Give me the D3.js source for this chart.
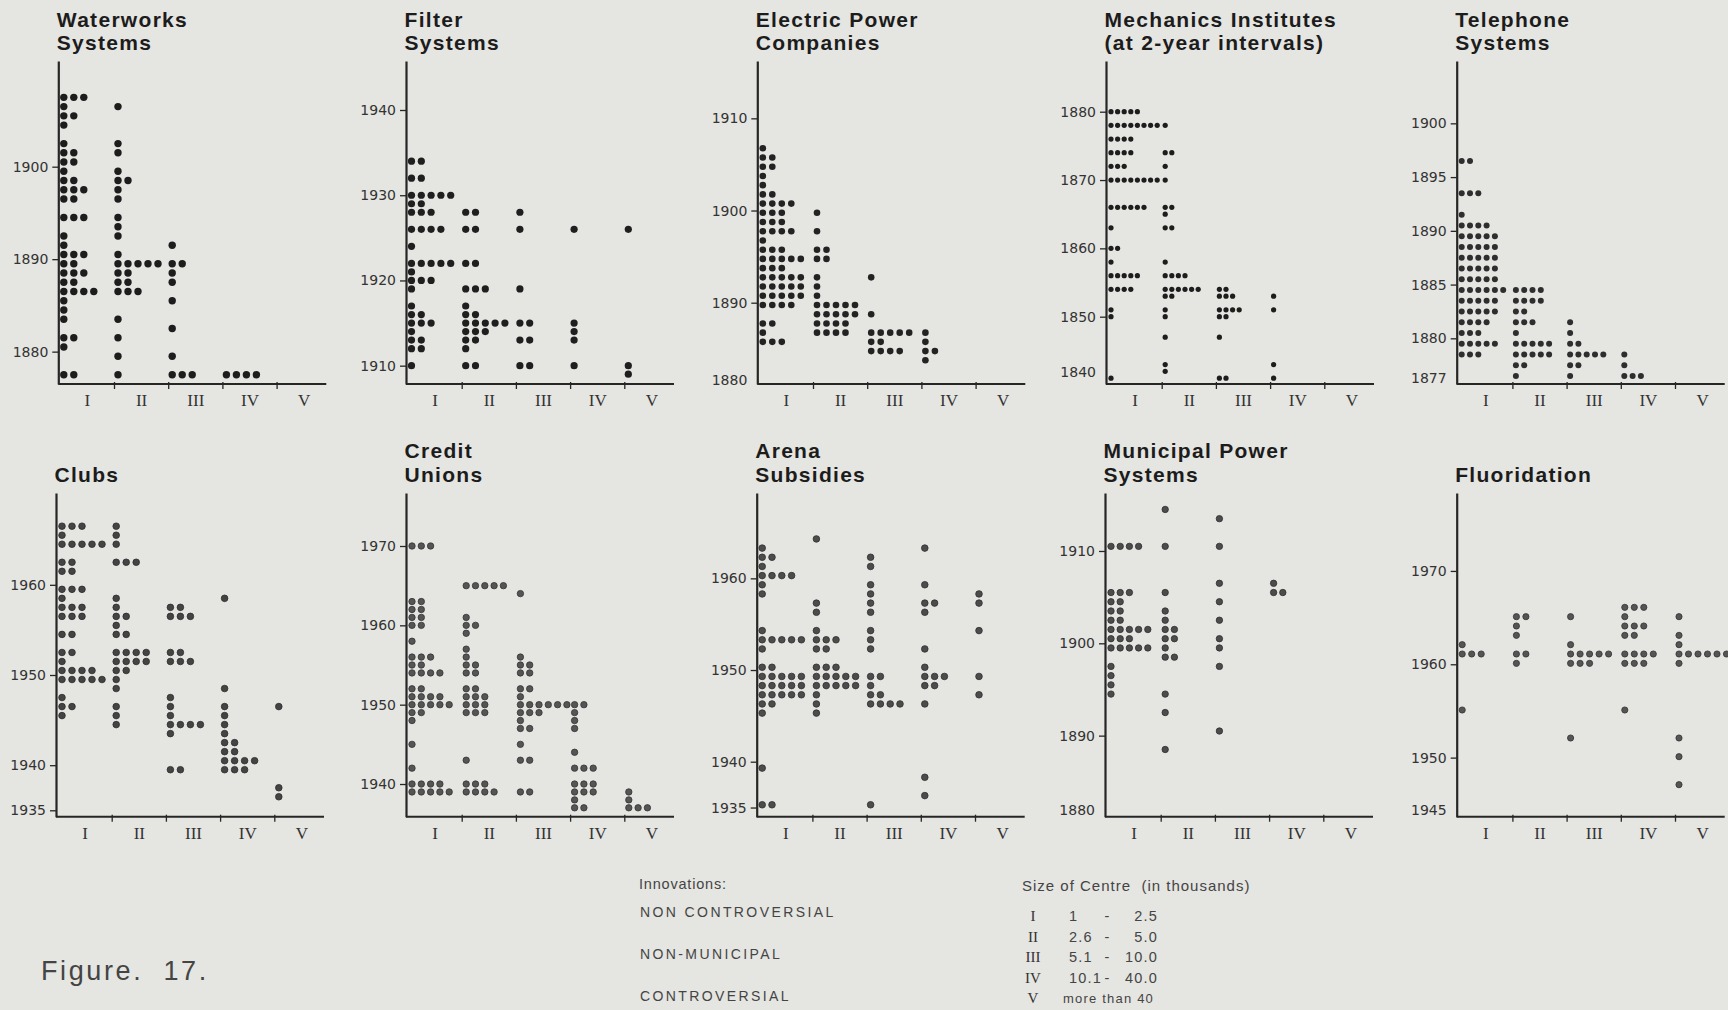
<!DOCTYPE html>
<html>
<head>
<meta charset="utf-8">
<script src="https://cdn.jsdelivr.net/npm/d3@7"></script>
<style>
  html, body { margin: 0; padding: 0; background: #e5e5e1; }
  svg { display: block; }
  .title { font-family: "Liberation Sans", Arial, sans-serif; font-weight: bold; font-size: 21px; letter-spacing: 1.3px; fill: #1c1c1c; }
  .yaxis text, .origin { font-family: "DejaVu Sans", sans-serif; font-size: 14px; fill: #333; }
  .xaxis text { font-family: "Liberation Serif", "Times New Roman", serif; font-size: 17px; fill: #333; }
  .yaxis path, .yaxis line, .xline, .bound { stroke: #262626; }
  .note { font-family: "Liberation Sans", Arial, sans-serif; fill: #444; }
</style>
</head>
<body>
<svg id="fig" width="1728" height="1010"></svg>
<script>
// ---------------------------------------------------------------
// Size classes of centres (x categories)
const sizeClasses = ["I", "II", "III", "IV", "V"];

// Each record: [size class, year of adoption, number of centres]
const waterworks = [
  ["I",1907,3],["I",1906,1],["I",1905,2],["I",1904,1],["I",1902,1],["I",1901,2],["I",1900,2],
  ["I",1899,1],["I",1898,2],["I",1897,3],["I",1896,2],["I",1894,3],["I",1892,1],["I",1891,1],
  ["I",1890,3],["I",1889,2],["I",1888,3],["I",1887,2],["I",1886,4],["I",1885,1],["I",1884,1],
  ["I",1883,1],["I",1881,2],["I",1880,1],["I",1877,2],
  ["II",1906,1],["II",1902,1],["II",1901,1],["II",1899,1],["II",1898,2],["II",1897,1],["II",1896,1],
  ["II",1894,1],["II",1893,1],["II",1892,1],["II",1890,1],["II",1889,5],["II",1888,2],["II",1887,2],
  ["II",1886,3],["II",1883,1],["II",1881,1],["II",1879,1],["II",1877,1],
  ["III",1891,1],["III",1889,2],["III",1888,1],["III",1887,1],["III",1885,1],["III",1882,1],
  ["III",1879,1],["III",1877,3],
  ["IV",1877,4]
];

const filterSystems = [
  ["I",1934,2],["I",1932,2],["I",1930,5],["I",1929,2],["I",1928,3],["I",1926,4],["I",1924,1],
  ["I",1922,5],["I",1921,1],["I",1920,3],["I",1919,1],["I",1917,1],["I",1916,2],["I",1915,3],
  ["I",1914,1],["I",1913,2],["I",1912,2],["I",1910,1],
  ["II",1928,2],["II",1926,2],["II",1922,2],["II",1919,3],["II",1917,1],["II",1916,2],["II",1915,5],
  ["II",1914,3],["II",1913,2],["II",1912,1],["II",1910,2],
  ["III",1928,1],["III",1926,1],["III",1919,1],["III",1915,2],["III",1913,2],["III",1910,2],
  ["IV",1926,1],["IV",1915,1],["IV",1914,1],["IV",1913,1],["IV",1910,1],
  ["V",1926,1],["V",1910,1],["V",1909,1]
];

const electricPower = [
  ["I",1906,1],["I",1905,2],["I",1904,2],["I",1903,1],["I",1902,1],["I",1901,2],["I",1900,4],
  ["I",1899,3],["I",1898,3],["I",1897,4],["I",1896,1],["I",1895,3],["I",1894,5],["I",1893,3],
  ["I",1892,5],["I",1891,5],["I",1890,5],["I",1889,4],["I",1887,2],["I",1886,1],["I",1885,3],
  ["II",1899,1],["II",1897,1],["II",1895,2],["II",1894,2],["II",1892,1],["II",1891,1],["II",1890,1],
  ["II",1889,5],["II",1888,5],["II",1887,4],["II",1886,4],
  ["III",1892,1],["III",1888,1],["III",1886,5],["III",1885,2],["III",1884,4],
  ["IV",1886,1],["IV",1885,1],["IV",1884,2],["IV",1883,1]
];

const mechanicsInstitutes = [
  ["I",1880,5],["I",1878,8],["I",1876,4],["I",1874,4],["I",1872,3],["I",1870,8],["I",1866,6],
  ["I",1863,1],["I",1860,2],["I",1858,1],["I",1856,5],["I",1854,4],["I",1851,1],["I",1850,1],
  ["I",1841,1],
  ["II",1878,1],["II",1874,2],["II",1872,1],["II",1870,1],["II",1866,2],["II",1865,1],["II",1863,2],
  ["II",1858,1],["II",1856,4],["II",1854,6],["II",1853,2],["II",1851,1],["II",1850,1],["II",1847,1],
  ["II",1843,1],["II",1842,1],
  ["III",1854,2],["III",1853,3],["III",1851,4],["III",1850,2],["III",1847,1],["III",1841,2],
  ["IV",1853,1],["IV",1851,1],["IV",1843,1],["IV",1841,1]
];

const telephoneSystems = [
  ["I",1897,2],["I",1894,3],["I",1892,1],["I",1891,4],["I",1890,5],["I",1889,5],["I",1888,5],
  ["I",1887,5],["I",1886,5],["I",1885,6],["I",1884,5],["I",1883,5],["I",1882,4],["I",1881,3],
  ["I",1880,5],["I",1879,3],
  ["II",1885,4],["II",1884,4],["II",1883,2],["II",1882,3],["II",1881,1],["II",1880,5],["II",1879,5],
  ["II",1878,2],["II",1877,1],
  ["III",1882,1],["III",1881,1],["III",1880,2],["III",1879,5],["III",1878,2],["III",1877,1],
  ["IV",1879,1],["IV",1878,1],["IV",1877,3]
];

const clubs = [
  ["I",1966,3],["I",1965,1],["I",1964,5],["I",1962,2],["I",1961,2],["I",1959,3],["I",1958,1],
  ["I",1957,3],["I",1956,3],["I",1954,2],["I",1952,2],["I",1951,1],["I",1950,4],["I",1949,5],
  ["I",1947,1],["I",1946,2],["I",1945,1],
  ["II",1966,1],["II",1965,1],["II",1964,1],["II",1962,3],["II",1958,1],["II",1957,1],["II",1956,2],
  ["II",1955,1],["II",1954,2],["II",1952,4],["II",1951,4],["II",1950,2],["II",1949,1],["II",1948,1],
  ["II",1946,1],["II",1945,1],["II",1944,1],
  ["III",1957,2],["III",1956,3],["III",1952,2],["III",1951,3],["III",1947,1],["III",1946,1],
  ["III",1945,1],["III",1944,4],["III",1943,1],["III",1939,2],
  ["IV",1958,1],["IV",1948,1],["IV",1946,1],["IV",1945,1],["IV",1944,1],["IV",1943,1],["IV",1942,2],
  ["IV",1941,2],["IV",1940,4],["IV",1939,3],
  ["V",1946,1],["V",1937,1],["V",1936,1]
];

const creditUnions = [
  ["I",1970,3],["I",1963,2],["I",1962,2],["I",1961,2],["I",1960,2],["I",1958,1],["I",1956,3],
  ["I",1955,2],["I",1954,4],["I",1952,2],["I",1951,4],["I",1950,5],["I",1949,2],["I",1948,1],
  ["I",1945,1],["I",1942,1],["I",1940,4],["I",1939,5],
  ["II",1965,5],["II",1961,1],["II",1960,2],["II",1959,1],["II",1957,1],["II",1956,1],["II",1955,2],
  ["II",1954,2],["II",1952,2],["II",1951,3],["II",1950,3],["II",1949,3],["II",1943,1],["II",1940,3],
  ["II",1939,4],
  ["III",1964,1],["III",1956,1],["III",1955,2],["III",1954,2],["III",1952,2],["III",1951,1],
  ["III",1950,6],["III",1949,3],["III",1948,1],["III",1947,2],["III",1945,1],["III",1943,2],
  ["III",1939,2],
  ["IV",1950,2],["IV",1949,1],["IV",1948,1],["IV",1947,1],["IV",1944,1],["IV",1942,3],["IV",1940,3],
  ["IV",1939,3],["IV",1938,1],["IV",1937,2],
  ["V",1939,1],["V",1938,1],["V",1937,3]
];

const arenaSubsidies = [
  ["I",1963,1],["I",1962,2],["I",1961,1],["I",1960,4],["I",1959,1],["I",1958,1],["I",1954,1],
  ["I",1953,5],["I",1952,1],["I",1950,2],["I",1949,5],["I",1948,5],["I",1947,5],["I",1946,2],
  ["I",1945,1],["I",1939,1],["I",1935,2],
  ["II",1964,1],["II",1957,1],["II",1956,1],["II",1954,1],["II",1953,3],["II",1952,2],["II",1950,3],
  ["II",1949,5],["II",1948,5],["II",1947,1],["II",1946,1],["II",1945,1],
  ["III",1962,1],["III",1961,1],["III",1959,1],["III",1958,1],["III",1957,1],["III",1956,1],
  ["III",1954,1],["III",1953,1],["III",1952,1],["III",1949,2],["III",1948,1],["III",1947,2],
  ["III",1946,4],["III",1935,1],
  ["IV",1963,1],["IV",1959,1],["IV",1957,2],["IV",1956,1],["IV",1952,1],["IV",1950,1],["IV",1949,3],
  ["IV",1948,2],["IV",1946,1],["IV",1938,1],["IV",1936,1],
  ["V",1958,1],["V",1957,1],["V",1954,1],["V",1949,1],["V",1947,1]
];

const municipalPower = [
  ["I",1910,4],["I",1905,3],["I",1904,2],["I",1903,2],["I",1902,2],["I",1901,5],["I",1900,3],
  ["I",1899,5],["I",1897,1],["I",1896,1],["I",1895,1],["I",1894,1],
  ["II",1914,1],["II",1910,1],["II",1905,1],["II",1903,1],["II",1902,1],["II",1901,2],["II",1900,2],
  ["II",1899,1],["II",1898,2],["II",1894,1],["II",1892,1],["II",1888,1],
  ["III",1913,1],["III",1910,1],["III",1906,1],["III",1904,1],["III",1902,1],["III",1900,1],
  ["III",1899,1],["III",1897,1],["III",1890,1],
  ["IV",1906,1],["IV",1905,2]
];

const fluoridation = [
  ["I",1962,1],["I",1961,3],["I",1955,1],
  ["II",1965,2],["II",1964,1],["II",1963,1],["II",1961,2],["II",1960,1],
  ["III",1965,1],["III",1962,1],["III",1961,5],["III",1960,3],["III",1952,1],
  ["IV",1966,3],["IV",1965,1],["IV",1964,3],["IV",1963,2],["IV",1961,4],["IV",1960,3],["IV",1955,1],
  ["V",1965,1],["V",1963,1],["V",1962,1],["V",1961,6],["V",1960,1],["V",1952,1],["V",1950,1],["V",1947,1]
];

// Year tick labels for each panel, and the year written at the axis origin
const waterworksTicks = [1880, 1890, 1900];
const filterTicks = [1910, 1920, 1930, 1940];
const electricTicks = [1890, 1900, 1910];
const mechanicsTicks = [1850, 1860, 1870, 1880];
const telephoneTicks = [1880, 1885, 1890, 1895, 1900];
const clubsTicks = [1935, 1940, 1950, 1960];
const creditTicks = [1940, 1950, 1960, 1970];
const arenaTicks = [1935, 1940, 1950, 1960];
const municipalTicks = [1890, 1900, 1910];
const fluoridationTicks = [1950, 1960, 1970];
const originYears = [null, null, 1880, 1840, 1877, null, null, null, 1880, 1945];

const panelTitles = [
  ["Waterworks", "Systems"], ["Filter", "Systems"], ["Electric Power", "Companies"],
  ["Mechanics Institutes", "(at 2-year intervals)"], ["Telephone", "Systems"],
  ["Clubs"], ["Credit", "Unions"], ["Arena", "Subsidies"], ["Municipal Power", "Systems"], ["Fluoridation"]
];

// Legend texts
const innovationTypes = ["NON CONTROVERSIAL", "NON-MUNICIPAL", "CONTROVERSIAL"];
const sizeRanges = [["I", "1", "2.5"], ["II", "2.6", "5.0"], ["III", "5.1", "10.0"], ["IV", "10.1", "40.0"], ["V", "more than 40", null]];

// ---------------------------------------------------------------
// Layout of the small multiples
const rowGeom = [
  { top: 61, bottom: 384, titleBase: [26.8, 50] },
  { top: 493, bottom: 816.7, titleBase: [458.3, 481.7] }
];

const panels = [
  { rows: waterworks, ticks: waterworksTicks, row: 0, left: 58.3, domain: [1876.5, 1911.43], rowOffset: 0.5,
    dot: { r: 3.7, step: 10, first: 3.5, fill: "#1d1d1d" } },
  { rows: filterSystems, ticks: filterTicks, row: 0, left: 406, domain: [1907.85, 1945.75], rowOffset: 0,
    dot: { r: 3.6, step: 9.8, first: 3.5, fill: "#1f1f1f" } },
  { rows: electricPower, ticks: electricTicks, row: 0, left: 757.3, domain: [1881.18, 1916.22], rowOffset: 0.75,
    dot: { r: 3.3, step: 9.5, first: 3.5, fill: "#232323" }, originLift: 4 },
  { rows: mechanicsInstitutes, ticks: mechanicsTicks, row: 0, left: 1106, domain: [1840.15, 1887.42], rowOffset: 0,
    dot: { r: 2.6, step: 6.6, first: 3, fill: "#1d1d1d" }, originLift: 12 },
  { rows: telephoneSystems, ticks: telephoneTicks, row: 0, left: 1456.7, domain: [1875.75, 1905.8], rowOffset: -0.5,
    dot: { r: 3.0, step: 8.3, first: 3, fill: "#2e2e2e" }, originLift: 6 },
  { rows: clubs, ticks: clubsTicks, row: 1, left: 56, domain: [1934.29, 1970.18], rowOffset: 0.5,
    dot: { r: 3.3, step: 10, first: 4, fill: "#444", stroke: "#2c2c2c" } },
  { rows: creditUnions, ticks: creditTicks, row: 1, left: 406, domain: [1935.88, 1976.68], rowOffset: 0,
    dot: { r: 3.2, step: 9.3, first: 4, fill: "#555", stroke: "#333" } },
  { rows: arenaSubsidies, ticks: arenaTicks, row: 1, left: 756.7, domain: [1934.0, 1969.31], rowOffset: 0.3,
    dot: { r: 3.3, step: 9.8, first: 3.5, fill: "#4c4c4c", stroke: "#2e2e2e" } },
  { rows: municipalPower, ticks: municipalTicks, row: 1, left: 1105, domain: [1881.22, 1916.28], rowOffset: 0.5,
    dot: { r: 3.2, step: 9.2, first: 4, fill: "#4c4c4c", stroke: "#2e2e2e" }, originLift: 7 },
  { rows: fluoridation, ticks: fluoridationTicks, row: 1, left: 1456.7, domain: [1943.67, 1978.35], rowOffset: 0.1,
    dot: { r: 3.1, step: 9.5, first: 3.5, fill: "#555", stroke: "#333" }, originLift: 7 }
];

const classRange = [2, 273];   // band extent of the five size classes
const baselineLength = 268;    // drawn length of the horizontal axis

// ---------------------------------------------------------------
const svg = d3.select("#fig");

panels.forEach((p, idx) => {
  const geom = rowGeom[p.row];
  const g = svg.append("g").attr("transform", `translate(${p.left},0)`);

  const x = d3.scaleBand().domain(sizeClasses).range(classRange);
  const y = d3.scaleLinear().domain(p.domain).range([geom.bottom, geom.top]);

  // title, one or two lines; single lines sit on the lower line
  const lines = panelTitles[idx];
  const bases = lines.length === 1 ? [geom.titleBase[1]] : geom.titleBase;
  g.selectAll("text.title").data(lines).join("text")
    .attr("class", "title")
    .attr("x", -1.5)
    .attr("y", (d, i) => bases[i])
    .text(d => d);

  // year axis
  const ya = g.append("g").attr("class", "yaxis")
    .call(d3.axisLeft(y).tickValues(p.ticks).tickFormat(d3.format("d")).tickSize(6).tickSizeOuter(0).tickPadding(4));
  ya.select(".domain").attr("stroke-width", 2.2);
  ya.selectAll(".tick line").attr("stroke-width", 1.3);

  if (originYears[idx] !== null) {
    g.append("text").attr("class", "origin")
      .attr("x", -10).attr("y", geom.bottom - p.originLift)
      .attr("dy", "0.35em").attr("text-anchor", "end")
      .text(originYears[idx]);
  }

  // size-class axis: labels centred in each class band
  const xa = g.append("g").attr("class", "xaxis")
    .attr("transform", `translate(0,${geom.bottom})`)
    .call(d3.axisBottom(x).tickSize(0).tickPadding(10));
  xa.select(".domain").remove();

  g.append("line").attr("class", "xline")
    .attr("x1", 0).attr("x2", baselineLength)
    .attr("y1", geom.bottom).attr("y2", geom.bottom)
    .attr("stroke-width", 2);

  g.selectAll("line.bound").data(sizeClasses.slice(1)).join("line")
    .attr("class", "bound")
    .attr("x1", d => x(d)).attr("x2", d => x(d))
    .attr("y1", geom.bottom - 2).attr("y2", geom.bottom + 5)
    .attr("stroke-width", 1.3);

  // one dot per adopting centre, stacked to the right within its class
  const dots = p.rows.flatMap(([cls, year, n]) => d3.range(n).map(i => ({ cls, year, i })));
  g.selectAll("circle").data(dots).join("circle")
    .attr("cx", d => x(d.cls) + p.dot.first + d.i * p.dot.step)
    .attr("cy", d => y(d.year + p.rowOffset))
    .attr("r", p.dot.r)
    .attr("fill", p.dot.fill)
    .attr("stroke", p.dot.stroke || "none")
    .attr("stroke-width", p.dot.stroke ? 0.8 : 0);
});

// ---------------------------------------------------------------
// Figure number and legends
svg.append("text").attr("class", "note")
  .attr("x", 41).attr("y", 980)
  .attr("font-size", 27).attr("letter-spacing", 2.6).attr("font-weight", 300)
  .attr("fill", "#555")
  .style("white-space", "pre")
  .text("Figure.  17.");

svg.append("text").attr("class", "note")
  .attr("x", 639).attr("y", 889).attr("font-size", 14.5).attr("letter-spacing", 0.8)
  .text("Innovations:");

svg.selectAll("text.innov").data(innovationTypes).join("text")
  .attr("class", "note innov")
  .attr("x", 640).attr("y", (d, i) => 917 + i * 42)
  .attr("font-size", 14).attr("letter-spacing", 2.4)
  .text(d => d);

svg.append("text").attr("class", "note")
  .attr("x", 1022).attr("y", 891).attr("font-size", 15).attr("letter-spacing", 1)
  .style("white-space", "pre")
  .text("Size of Centre  (in thousands)");

const sizeRow = svg.selectAll("g.sizeRow").data(sizeRanges).join("g")
  .attr("class", "sizeRow")
  .attr("transform", (d, i) => `translate(0,${921 + i * 20.5})`);

sizeRow.append("text")
  .attr("x", 1033).attr("text-anchor", "middle")
  .attr("font-family", "Liberation Serif, serif").attr("font-size", 15).attr("fill", "#333")
  .text(d => d[0]);

sizeRow.append("text").attr("class", "note")
  .attr("x", d => d[2] === null ? 1063 : 1069).attr("font-size", d => d[2] === null ? 13 : 14.5)
  .attr("letter-spacing", 1.2)
  .text(d => d[1]);

sizeRow.filter(d => d[2] !== null).append("text").attr("class", "note")
  .attr("x", 1107).attr("text-anchor", "middle").attr("font-size", 14.5)
  .text("-");

sizeRow.filter(d => d[2] !== null).append("text").attr("class", "note")
  .attr("x", 1158).attr("text-anchor", "end").attr("font-size", 14.5).attr("letter-spacing", 1.2)
  .text(d => d[2]);
</script>
</body>
</html>
